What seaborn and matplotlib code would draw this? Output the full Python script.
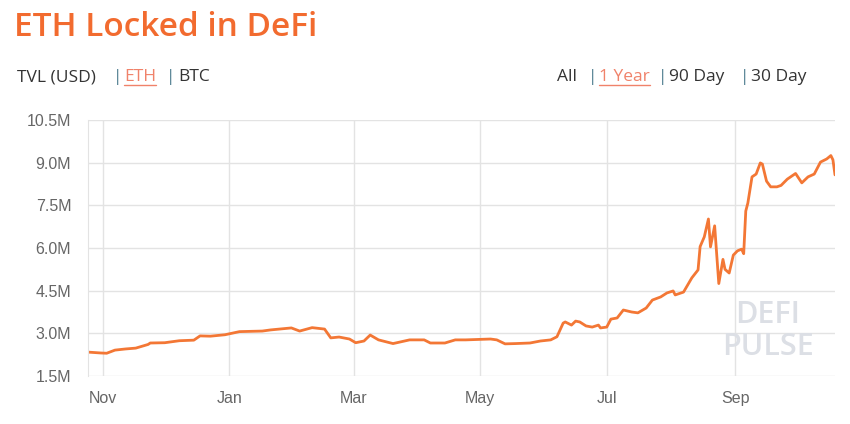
import pandas as pd
import numpy as np
import matplotlib
matplotlib.use("Agg")
import matplotlib.pyplot as plt
import matplotlib.dates as mdates
from matplotlib.ticker import FixedLocator, FuncFormatter
import seaborn as sns

# ===== data (ETH locked, millions) =====
dates = [
    "2019-10-25", "2019-10-31", "2019-11-03", "2019-11-07", "2019-11-12", "2019-11-17",
    "2019-11-23", "2019-11-24", "2019-12-01", "2019-12-08", "2019-12-15", "2019-12-18",
    "2019-12-23", "2019-12-30", "2020-01-06", "2020-01-17", "2020-01-21", "2020-01-31",
    "2020-02-04", "2020-02-10", "2020-02-16", "2020-02-19", "2020-02-23", "2020-02-28",
    "2020-03-02", "2020-03-06", "2020-03-09", "2020-03-13", "2020-03-20", "2020-03-28",
    "2020-04-04", "2020-04-07", "2020-04-14", "2020-04-19", "2020-04-24", "2020-04-28",
    "2020-05-06", "2020-05-09", "2020-05-13", "2020-05-18", "2020-05-25", "2020-05-30",
    "2020-06-04", "2020-06-07", "2020-06-10", "2020-06-11", "2020-06-14", "2020-06-16",
    "2020-06-18", "2020-06-21", "2020-06-24", "2020-06-27", "2020-06-28", "2020-07-01",
    "2020-07-03", "2020-07-06", "2020-07-09", "2020-07-13", "2020-07-16", "2020-07-20",
    "2020-07-23", "2020-07-27", "2020-07-30", "2020-08-02", "2020-08-03", "2020-08-07",
    "2020-08-09", "2020-08-11", "2020-08-14", "2020-08-15", "2020-08-17", "2020-08-19",
    "2020-08-20", "2020-08-22", "2020-08-24", "2020-08-26", "2020-08-27", "2020-08-29",
    "2020-08-31", "2020-09-02", "2020-09-04", "2020-09-05", "2020-09-06", "2020-09-07",
    "2020-09-09", "2020-09-11", "2020-09-13", "2020-09-14", "2020-09-16", "2020-09-18",
    "2020-09-21", "2020-09-23", "2020-09-26", "2020-09-30", "2020-10-03", "2020-10-06",
    "2020-10-09", "2020-10-12", "2020-10-15", "2020-10-17", "2020-10-18", "2020-10-19",
]
eth_locked = [
    2.34, 2.31, 2.30, 2.41, 2.45, 2.48,
    2.61, 2.66, 2.67, 2.74, 2.76, 2.91,
    2.90, 2.95, 3.06, 3.08, 3.12, 3.19,
    3.08, 3.20, 3.15, 2.84, 2.87, 2.80,
    2.67, 2.73, 2.94, 2.77, 2.64, 2.77,
    2.77, 2.66, 2.66, 2.77, 2.77, 2.78,
    2.80, 2.77, 2.63, 2.64, 2.66, 2.73,
    2.77, 2.88, 3.36, 3.40, 3.29, 3.43,
    3.40, 3.26, 3.22, 3.29, 3.19, 3.22,
    3.50, 3.54, 3.82, 3.75, 3.72, 3.89,
    4.17, 4.28, 4.42, 4.49, 4.35, 4.45,
    4.70, 4.95, 5.23, 6.05, 6.39, 7.02,
    6.04, 6.78, 4.75, 5.60, 5.25, 5.12,
    5.75, 5.90, 5.96, 5.80, 7.30, 7.58,
    8.50, 8.60, 8.99, 8.95, 8.35, 8.15,
    8.15, 8.20, 8.42, 8.62, 8.29, 8.50,
    8.60, 9.02, 9.13, 9.25, 9.10, 8.57,
]
y_ticks = [1.5, 3.0, 4.5, 6.0, 7.5, 9.0, 10.5]
top_menu = ["TVL (USD)", "|", "ETH", "|", "BTC"]
range_menu = ["All", "|", "1 Year", "|", "90 Day", "|", "30 Day"]

df = pd.DataFrame({"date": pd.to_datetime(dates), "eth": eth_locked})

# ===== style =====
sns.set_style("white")
plt.rcParams["font.family"] = ["Liberation Sans Narrow", "Liberation Sans", "DejaVu Sans"]

W, H = 850, 424
fig = plt.figure(figsize=(W / 100, H / 100), dpi=100)
ax = fig.add_axes([88 / W, 48 / H, (835 - 88) / W, (376 - 120) / H])

orange = "#f37735"
grid_c = "#e3e3e3"

sns.lineplot(data=df, x="date", y="eth", ax=ax, color=orange, linewidth=2.0)

ax.set_xlim(df["date"].iloc[0], df["date"].iloc[-1])
ax.set_ylim(y_ticks[0], y_ticks[-1])
ax.yaxis.set_major_locator(FixedLocator(y_ticks))
ax.yaxis.set_major_formatter(FuncFormatter(lambda v, p: f"{v:.1f}M"))
ax.xaxis.set_major_locator(mdates.MonthLocator(bymonth=[1, 3, 5, 7, 9, 11]))
ax.xaxis.set_major_formatter(mdates.DateFormatter("%b"))

ax.grid(True, color=grid_c, linewidth=1)
ax.set_axisbelow(True)
for s in ["top", "right", "bottom"]:
    ax.spines[s].set_visible(False)
ax.spines["left"].set_color(grid_c)
ax.tick_params(axis="y", length=11, color=grid_c, labelcolor="#666666", labelsize=11.5, pad=1)
ax.tick_params(axis="x", length=7, color=grid_c, labelcolor="#666666", labelsize=11.5, pad=4)
ax.set_xlabel("")
ax.set_ylabel("")

# watermark
for txt, yy in [("DEFI", 315), ("PULSE", 347)]:
    fig.text(768 / W, 1 - yy / H, txt, ha="center", va="center", fontsize=22,
             color="#dcdfe5", family=["Open Sans", "DejaVu Sans"], fontweight="semibold")

# ===== header texts =====
fig.text(14 / W, 1 - 27 / H, "ETH Locked in DeFi", ha="left", va="center",
         fontsize=24, color="#f26b2f", family=["Open Sans", "DejaVu Sans"], fontweight="semibold")

def menu(items, xs, active, y=77):
    for t, x in zip(items, xs):
        c = "#333333"
        if t == "|":
            c = "#4a7a8c"
        if t == active:
            c = "#f0826a"
        tx = fig.text(x / W, 1 - y / H, t, ha="left", va="center", fontsize=12.5,
                      color=c, family=["Open Sans", "DejaVu Sans"])
        if t == active:
            fig.canvas.draw()
            bb = tx.get_window_extent()
            fig.add_artist(plt.Line2D([bb.x0 / W, bb.x1 / W], [1 - (y + 8) / H] * 2,
                                      transform=fig.transFigure, color=c, linewidth=1))

menu(top_menu, [17, 113, 124, 166, 178], "ETH")
menu(range_menu, [557, 588, 599, 658, 669, 740, 751], "1 Year")

fig.savefig("out.png", dpi=100)
